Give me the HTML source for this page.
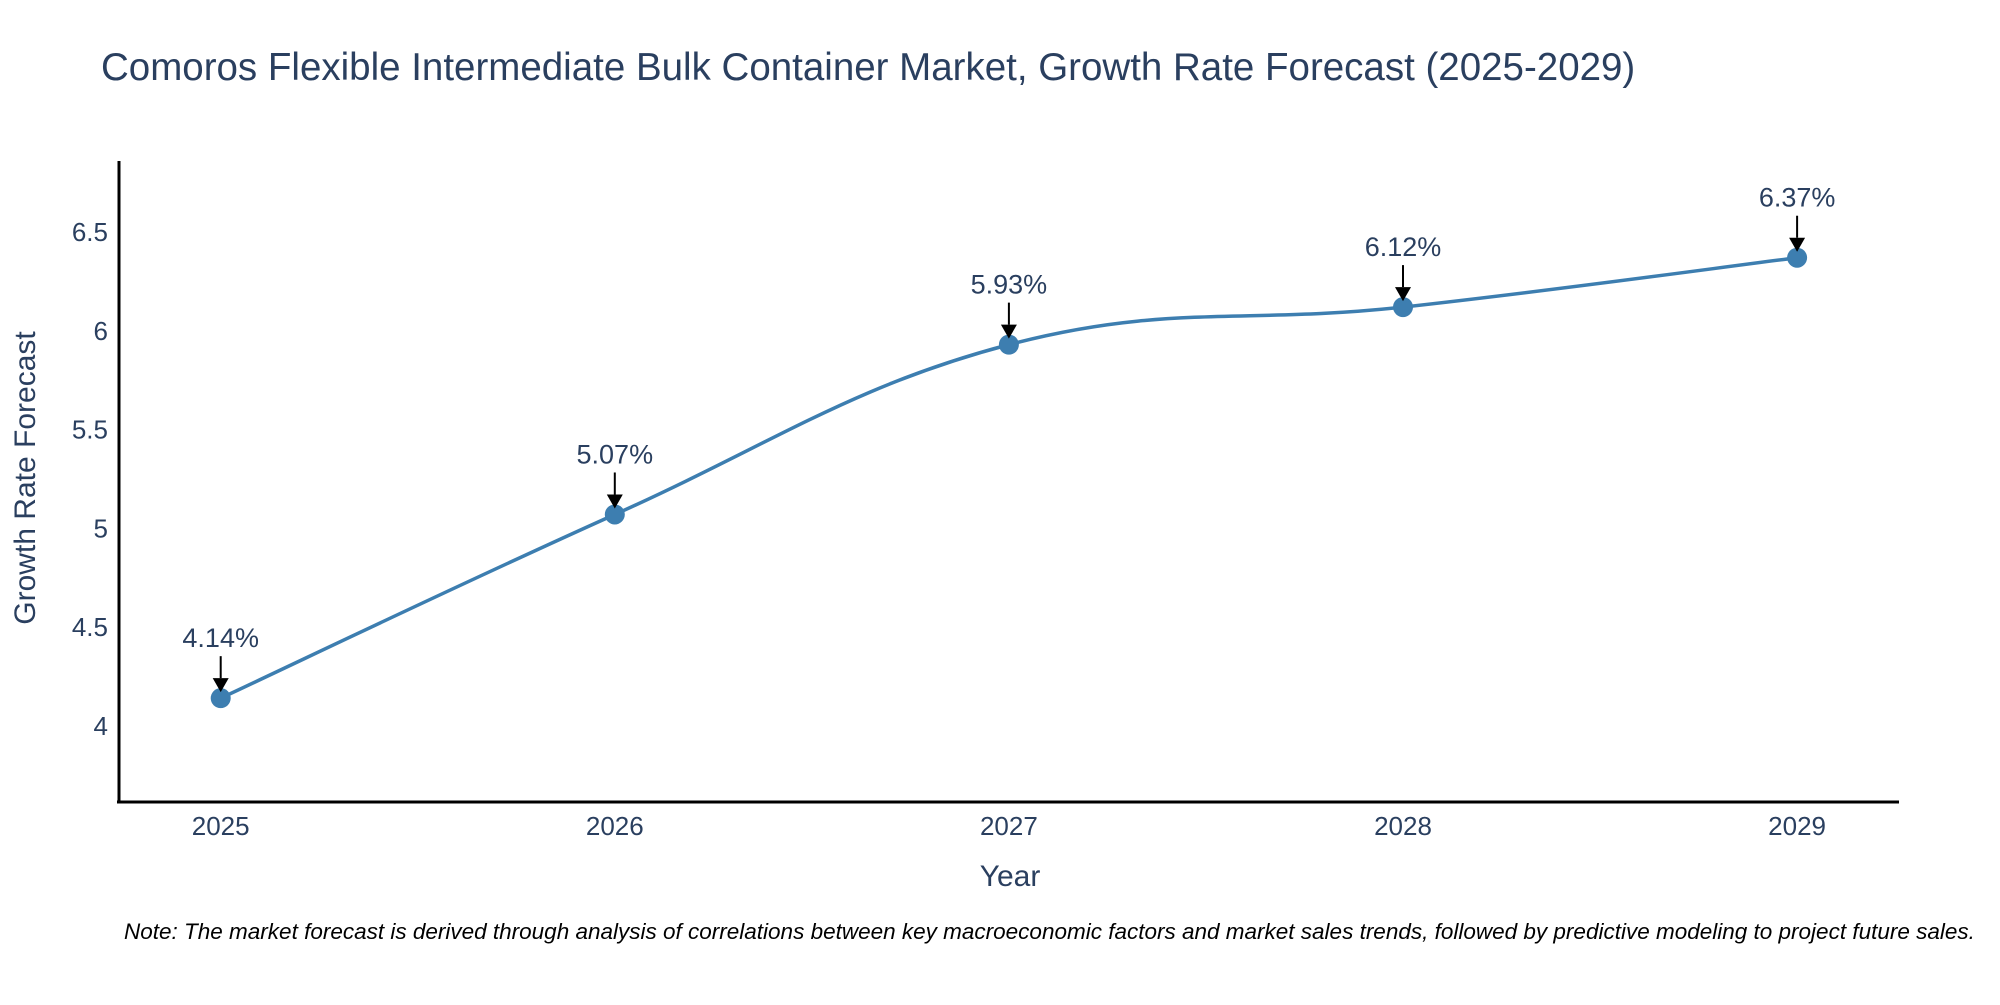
<!DOCTYPE html>
<html><head><meta charset="utf-8"><style>
body{margin:0;background:#fff}
svg text{font-family:"Liberation Sans",sans-serif;fill:#2a3f5f}
</style></head><body>
<svg id="chart" width="2000" height="1000" xmlns="http://www.w3.org/2000/svg">
<text x="101" y="80" font-size="38.5">Comoros Flexible Intermediate Bulk Container Market, Growth Rate Forecast (2025-2029)</text>
<g id="yticks"></g>
<g id="xticks"></g>
<line x1="119" y1="161" x2="119" y2="802" stroke="#000" stroke-width="3"/>
<line x1="117" y1="802" x2="1899" y2="802" stroke="#000" stroke-width="3"/>
<text transform="translate(35,478) rotate(-90)" text-anchor="middle" font-size="30">Growth Rate Forecast</text>
<text x="1010" y="886" text-anchor="middle" font-size="30">Year</text>
<path id="line" fill="none" stroke="#3d7eb0" stroke-width="3.5"/>
<g id="marks"></g>
<text x="124" y="939" font-size="22.5" font-style="italic" style="fill:#000">Note: The market forecast is derived through analysis of correlations between key macroeconomic factors and market sales trends, followed by predictive modeling to project future sales.</text>
</svg>
<script>
const years=[2025,2026,2027,2028,2029];
const values=[4.14,5.07,5.93,6.12,6.37];
const labels=["4.14%","5.07%","5.93%","6.12%","6.37%"];
const yTicks=[4,4.5,5,5.5,6,6.5];
const NS="http://www.w3.org/2000/svg";
function xs(v){return 220.7+(v-2025)*394.1;}
function ys(v){return 725.8-(v-4)*197.5;}
function mk(t,a,p){const e=document.createElementNS(NS,t);for(const k in a)e.setAttribute(k,a[k]);p.appendChild(e);return e;}
const yg=document.getElementById('yticks');
yTicks.forEach(t=>{const e=mk('text',{x:108,y:ys(t)+9,'text-anchor':'end','font-size':26},yg);e.textContent=String(t);

});
const xg=document.getElementById('xticks');
years.forEach(t=>{const e=mk('text',{x:xs(t),y:835,'text-anchor':'middle','font-size':26},xg);e.textContent=String(t);

});
const P=years.map((y,i)=>[xs(y),ys(values[i])]);
let d="M"+P[0][0]+","+P[0][1];const s=0.2;
for(let i=0;i<P.length-1;i++){const p0=P[i-1]||P[i],p1=P[i],p2=P[i+1],p3=P[i+2]||P[i+1];
const c1=[p1[0]+(p2[0]-p0[0])*s,p1[1]+(p2[1]-p0[1])*s];
const c2=[p2[0]-(p3[0]-p1[0])*s,p2[1]-(p3[1]-p1[1])*s];
d+=` C${c1[0]},${c1[1]} ${c2[0]},${c2[1]} ${p2[0]},${p2[1]}`;}
document.getElementById('line').setAttribute('d',d);
const mg=document.getElementById('marks');
P.forEach((p,i)=>{const c=mk('circle',{cx:p[0],cy:p[1],r:10,fill:'#3d7eb0'},mg);


const l=mk('line',{x1:p[0],y1:p[1]-42,x2:p[0],y2:p[1]-20,stroke:'#000','stroke-width':2},mg);


const h=mk('path',{d:`M${p[0]-8},${p[1]-20} L${p[0]+8},${p[1]-20} L${p[0]},${p[1]-6} Z`,fill:'#000'},mg);


const t=mk('text',{x:p[0],y:p[1]-51,'text-anchor':'middle','font-size':27},mg);t.textContent=labels[i];

});
</script>
</body></html>
